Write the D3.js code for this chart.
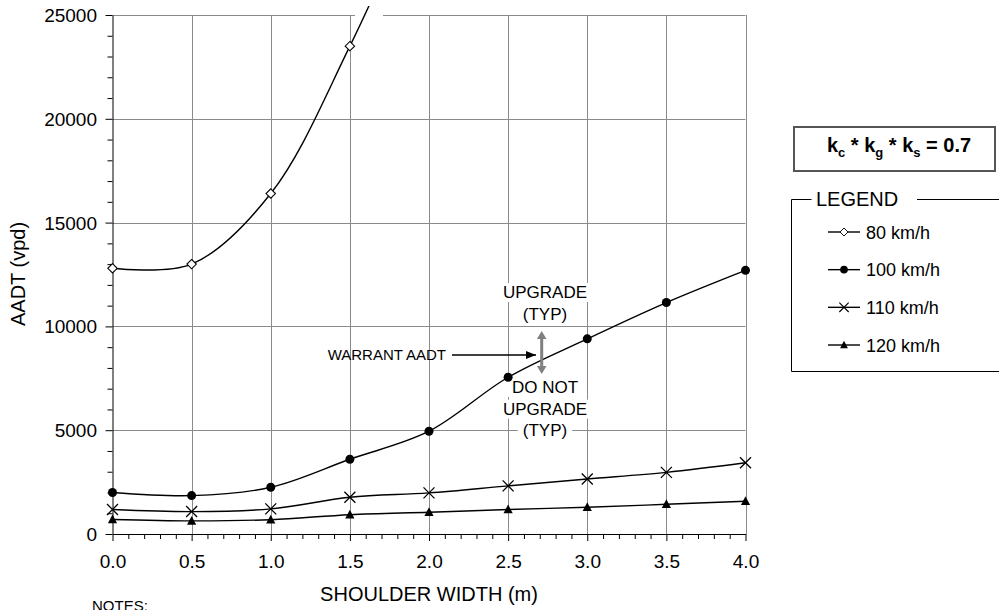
<!DOCTYPE html>
<html>
  <head>
    <meta charset="utf-8">
    <script src="https://cdn.jsdelivr.net/npm/d3@7/dist/d3.min.js"></script>
    <style>
      body { margin: 0; background: #fff; }
      text { font-family: "Liberation Sans", Arial, sans-serif; fill: #000; }
    </style>
  </head>
  <body>
    <script type="text/javascript">
      // data
      var shoulder = [0, 0.5, 1.0, 1.5, 2.0, 2.5, 3.0, 3.5, 4.0];
      var speeds = ["80 km/h", "100 km/h", "110 km/h", "120 km/h"];
      var markers = ["diamond", "circle", "cross", "triangle"];
      var aadt80 = [12800, 13000, 16400, 23500, 32000];
      var aadt100 = [2000, 1850, 2250, 3600, 4950, 7550, 9400, 11150, 12700];
      var aadt110 = [1180, 1080, 1210, 1770, 1980, 2320, 2650, 2970, 3430];
      var aadt120 = [700, 630, 690, 930, 1050, 1180, 1290, 1430, 1580];
      var yTicks = [0, 5000, 10000, 15000, 20000, 25000];
      var xTicks = [0, 0.5, 1.0, 1.5, 2.0, 2.5, 3.0, 3.5, 4.0];

      var series = [aadt80, aadt100, aadt110, aadt120].map(function(vals, i){
        return {name: speeds[i], marker: markers[i],
                points: vals.map(function(v, j){ return [shoulder[j], v]; })};
      });

      var w = 999, h = 610;
      var pL = 112.5, pR = 745.5, pT = 15, pB = 534;

      var svg = d3.select("body").append("svg")
                  .attr("width", w).attr("height", h);

      var x = d3.scaleLinear().domain([0, 4]).range([pL, pR]);
      var y = d3.scaleLinear().domain([0, 25000]).range([pB, pT]);

      // grid
      var grid = svg.append("g").attr("stroke", "#8a8a8a").attr("stroke-width", 1);
      grid.selectAll("line.v").data(xTicks.slice(1)).enter().append("line")
          .attr("x1", function(d){ return Math.round(x(d)) + 0.5; })
          .attr("x2", function(d){ return Math.round(x(d)) + 0.5; })
          .attr("y1", pT).attr("y2", pB);
      grid.selectAll("line.h").data(yTicks.slice(1)).enter().append("line")
          .attr("x1", pL).attr("x2", pR)
          .attr("y1", function(d){ return Math.round(y(d)) + 0.5; })
          .attr("y2", function(d){ return Math.round(y(d)) + 0.5; });

      // bit of the cut-off title box over the top border
      svg.append("rect").attr("x", 355).attr("y", 0).attr("width", 28).attr("height", 18)
         .attr("fill", "#fff");

      // annotation backgrounds and texts
      var fs = 17;
      var notesUp = ["UPGRADE", "(TYP)"];
      var notesDown = ["DO NOT", "UPGRADE", "(TYP)"];
      var ann = svg.append("g");
      function addNote(lines, y0, step){
        lines.forEach(function(t, i){
          var tx = ann.append("text").attr("x", 545).attr("y", y0 + i*step)
                      .attr("text-anchor", "middle").attr("font-size", fs).text(t);
          var bb = tx.node().getBBox();
          ann.insert("rect", "text").attr("x", bb.x - 5).attr("y", bb.y)
             .attr("width", bb.width + 10).attr("height", bb.height).attr("fill", "#fff");
        });
      }
      addNote(notesUp, 298, 21.7);
      addNote(notesDown, 393, 21.7);

      // axes
      var yMinor = d3.range(0, 25001, 1000).filter(function(d){ return d % 5000 !== 0; });
      var xMinor = d3.range(0, 41).map(function(d){ return d/10; })
                     .filter(function(d){ return Math.round(d*10) % 5 !== 0; });

      svg.append("g").attr("transform", "translate(" + pL + ",0)")
         .call(d3.axisLeft(y).tickValues(yMinor).tickSize(5).tickFormat(""))
         .call(function(g){ g.select(".domain").remove(); });
      svg.append("g").attr("transform", "translate(0," + pB + ")")
         .call(d3.axisBottom(x).tickValues(xMinor).tickSize(5).tickFormat(""))
         .call(function(g){ g.select(".domain").remove(); });

      var yAxis = svg.append("g").attr("transform", "translate(" + pL + ",0)")
         .call(d3.axisLeft(y).tickValues(yTicks).tickSize(7).tickPadding(8)
               .tickFormat(d3.format("d")).tickSizeOuter(0));
      yAxis.selectAll("text").attr("font-size", 19).attr("font-family", "Liberation Sans, Arial, sans-serif")
           .attr("x", -15.5).attr("dy", "0.34em");

      var xAxis = svg.append("g").attr("transform", "translate(0," + pB + ")")
         .call(d3.axisBottom(x).tickValues(xTicks).tickSize(7).tickPadding(14)
               .tickFormat(d3.format(".1f")).tickSizeOuter(0));
      xAxis.selectAll("text").attr("font-size", 19).attr("font-family", "Liberation Sans, Arial, sans-serif");
      svg.selectAll(".domain").attr("stroke", "#000");

      svg.append("text").attr("x", x(2)).attr("y", 601).attr("text-anchor", "middle")
         .attr("font-size", 20).text("SHOULDER WIDTH (m)");
      svg.append("text").attr("transform", "translate(25,274) rotate(-90)")
         .attr("text-anchor", "middle").attr("font-size", 20).text("AADT (vpd)");
      svg.append("text").attr("x", 92).attr("y", 611).attr("font-size", 15).text("NOTES:");

      // lines
      svg.append("clipPath").attr("id", "clip").append("rect")
         .attr("x", 0).attr("y", 6).attr("width", w).attr("height", pB + 10 - 6);

      var line = d3.line()
                   .x(function(d){ return x(d[0]); })
                   .y(function(d){ return y(d[1]); })
                   .curve(d3.curveCatmullRom.alpha(0.5));

      svg.append("g").attr("clip-path", "url(#clip)")
         .selectAll("path").data(series).enter().append("path")
         .attr("d", function(d){ return line(d.points); })
         .attr("fill", "none").attr("stroke", "#000").attr("stroke-width", 1.4);

      function drawMarker(g, type){
        if (type === "diamond") {
          g.append("path").attr("d", "M0,-4.7L4.7,0L0,4.7L-4.7,0Z")
           .attr("fill", "#fff").attr("stroke", "#000").attr("stroke-width", 1.1);
        } else if (type === "circle") {
          g.append("circle").attr("r", 4.5).attr("fill", "#000");
        } else if (type === "cross") {
          g.append("path").attr("d", "M-5.5,-5.5L5.5,5.5M-5.5,5.5L5.5,-5.5")
           .attr("stroke", "#000").attr("stroke-width", 1.3).attr("fill", "none");
        } else {
          g.append("path").attr("d", "M0,-5L4.6,3.8L-4.6,3.8Z").attr("fill", "#000");
        }
      }

      series.forEach(function(s){
        s.points.filter(function(p){ return p[1] <= 25000; }).forEach(function(p){
          var g = svg.append("g").attr("transform", "translate(" + x(p[0]) + "," + y(p[1]) + ")");
          drawMarker(g, s.marker);
        });
      });

      // warrant arrow
      svg.append("defs").append("marker").attr("id", "ah")
         .attr("viewBox", "0 0 10 10").attr("refX", 10).attr("refY", 5)
         .attr("markerWidth", 10).attr("markerHeight", 10).attr("markerUnits", "userSpaceOnUse")
         .attr("orient", "auto")
         .append("path").attr("d", "M0,1L10,5L0,9Z").attr("fill", "#000");
      svg.append("line").attr("x1", 452).attr("x2", 536).attr("y1", 355).attr("y2", 355)
         .attr("stroke", "#000").attr("stroke-width", 1.3).attr("marker-end", "url(#ah)");
      svg.append("text").attr("x", 446).attr("y", 360).attr("text-anchor", "end")
         .attr("font-size", 15).text("WARRANT AADT");

      // grey double arrow
      var ga = svg.append("g").attr("fill", "#808080");
      ga.append("rect").attr("x", 540.2).attr("y", 337).attr("width", 3).attr("height", 31);
      ga.append("path").attr("d", "M541.7,331L546.5,339L536.9,339Z");
      ga.append("path").attr("d", "M541.7,374L546.5,366L536.9,366Z");

      // k box
      svg.append("rect").attr("x", 794).attr("y", 127).attr("width", 201).attr("height", 44)
         .attr("fill", "#fff").attr("stroke", "#555").attr("stroke-width", 2);
      var kt = svg.append("text").attr("x", 899).attr("y", 152).attr("text-anchor", "middle")
                  .attr("font-size", 20).attr("font-weight", "bold");
      kt.append("tspan").text("k");
      kt.append("tspan").attr("font-size", 13).attr("dy", 5).text("c");
      kt.append("tspan").attr("dy", -5).text(" * k");
      kt.append("tspan").attr("font-size", 13).attr("dy", 5).text("g");
      kt.append("tspan").attr("dy", -5).text(" * k");
      kt.append("tspan").attr("font-size", 13).attr("dy", 5).text("s");
      kt.append("tspan").attr("dy", -5).text(" = 0.7");

      // legend
      var lg = svg.append("g").attr("stroke", "#000").attr("stroke-width", 1);
      lg.append("path").attr("d", "M811.5,199.5H791.5V371.5H999")
        .attr("fill", "none");
      lg.append("line").attr("x1", 917).attr("x2", 999).attr("y1", 199.5).attr("y2", 199.5);
      svg.append("text").attr("x", 816).attr("y", 206).attr("font-size", 20).text("LEGEND");

      var itemY = d3.scalePoint().domain(speeds).range([232, 345]);
      series.forEach(function(s){
        var yy = itemY(s.name);
        svg.append("line").attr("x1", 828).attr("x2", 860).attr("y1", yy).attr("y2", yy)
           .attr("stroke", "#000").attr("stroke-width", 1.4);
        var g = svg.append("g").attr("transform", "translate(844," + yy + ") scale(0.85)");
        drawMarker(g, s.marker);
        svg.append("text").attr("x", 866).attr("y", yy + 6.5).attr("font-size", 18).text(s.name);
      });
    </script>
  </body>
</html>
